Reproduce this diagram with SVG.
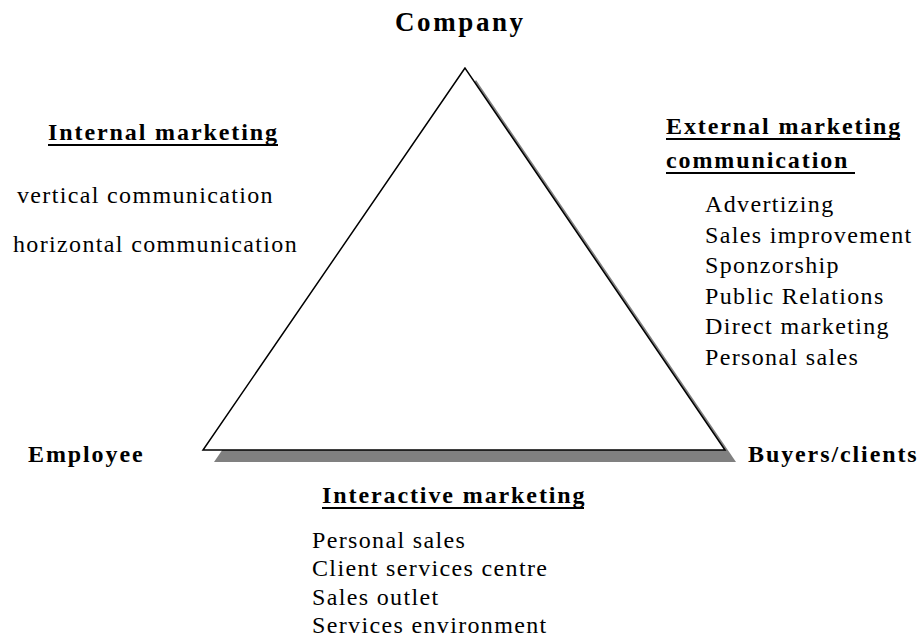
<svg xmlns="http://www.w3.org/2000/svg" width="918" height="639" viewBox="0 0 918 639">
<style>
text{font-family:"Liberation Serif","Times New Roman",serif;fill:#000}
.h{font-weight:bold;font-size:24px;letter-spacing:1.9px}
.t{font-size:24px;letter-spacing:1.35px}
.u{stroke:#000;stroke-width:2}
</style>
<rect width="918" height="639" fill="#fff"/>
<g id="triangle">
<polygon points="476,80 214,462 736,462" fill="#808080"/>
<polygon points="465,68 203,450 725,450" fill="#fff" stroke="#000" stroke-width="1.5" stroke-linejoin="miter"/>
</g>
<g id="company"><text x="395" y="31" style="font-weight:bold;font-size:27px;letter-spacing:2.6px">Company</text></g>
<g id="employee"><text class="h" x="28" y="462">Employee</text></g>
<g id="buyers"><text class="h" x="748" y="462">Buyers/clients</text></g>
<g id="internal">
<text class="h" x="48" y="140">Internal marketing</text>
<line class="u" x1="48" y1="145" x2="278" y2="145"/>
<text class="t" x="17" y="203">vertical communication</text>
<text class="t" x="13" y="252">horizontal communication</text>
</g>
<g id="external">
<text class="h" x="666" y="134">External marketing</text>
<line class="u" x1="666" y1="139" x2="900" y2="139"/>
<text class="h" x="666" y="168">communication</text>
<line class="u" x1="666" y1="173" x2="855" y2="173"/>
<text class="t" x="705" y="212">Advertizing</text>
<text class="t" x="705" y="242.5">Sales improvement</text>
<text class="t" x="705" y="273">Sponzorship</text>
<text class="t" x="705" y="303.5">Public Relations</text>
<text class="t" x="705" y="334">Direct marketing</text>
<text class="t" x="705" y="364.5">Personal sales</text>
</g>
<g id="interactive">
<text class="h" x="322" y="503">Interactive marketing</text>
<line class="u" x1="322" y1="508" x2="584" y2="508"/>
<text class="t" x="312" y="547.5">Personal sales</text>
<text class="t" x="312" y="576">Client services centre</text>
<text class="t" x="312" y="604.5">Sales outlet</text>
<text class="t" x="312" y="633">Services environment</text>
</g>
<g id="connectors"></g>
</svg>
